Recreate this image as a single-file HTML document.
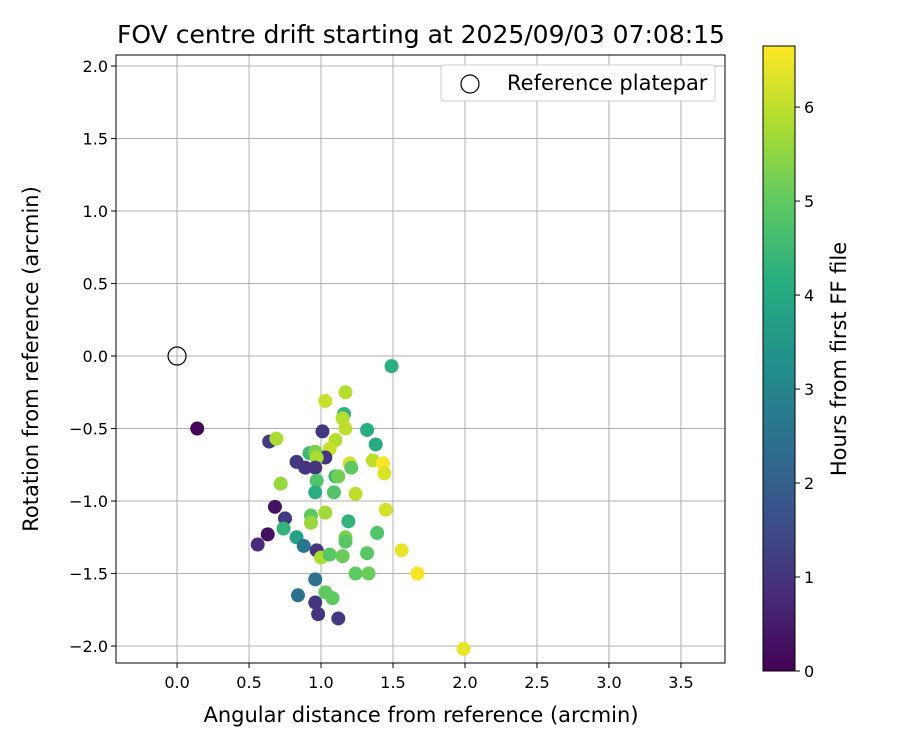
<!DOCTYPE html>
<html><head><meta charset="utf-8"><style>body{margin:0;background:#fff}svg{display:block;font-family:"DejaVu Sans","Liberation Sans",sans-serif}</style></head>
<body>
<svg id="chart" width="900" height="750" xmlns="http://www.w3.org/2000/svg">
<defs><linearGradient id="vir" x1="0" y1="1" x2="0" y2="0">
<stop offset="0" stop-color="#440154"/><stop offset="0.125" stop-color="#472d7b"/><stop offset="0.25" stop-color="#3b528b"/><stop offset="0.375" stop-color="#2c728e"/><stop offset="0.5" stop-color="#21918c"/><stop offset="0.625" stop-color="#28ae80"/><stop offset="0.75" stop-color="#5ec962"/><stop offset="0.875" stop-color="#addc30"/><stop offset="1" stop-color="#fde725"/></linearGradient></defs>
<rect width="900" height="750" fill="#fff"/>
<text x="421" y="43" style="font-size:25px" text-anchor="middle">FOV centre drift starting at 2025/09/03 07:08:15</text>
<g id="grid"></g><g id="ticks"></g><g id="marks"></g>
<rect x="116" y="55" width="609" height="608" fill="none" stroke="#000" stroke-width="1"/>
<text x="421" y="722" style="font-size:21px" text-anchor="middle">Angular distance from reference (arcmin)</text>
<text transform="translate(38,359) rotate(-90)" style="font-size:21px" text-anchor="middle">Rotation from reference (arcmin)</text>
<g>
<rect x="441" y="65" width="274" height="36" rx="3" fill="#fff" stroke="#ccc"/>
<circle cx="470" cy="84" r="9" fill="none" stroke="#000" stroke-width="1.2"/>
<text x="507" y="90" style="font-size:21px">Reference platepar</text></g>
<rect x="763" y="46" width="32" height="625" fill="url(#vir)" stroke="#000" stroke-width="1"/>
<g id="cbticks"></g>
<text transform="translate(846,359) rotate(-90)" style="font-size:21px" text-anchor="middle">Hours from first FF file</text>
</svg>
<script>
const xs=[0.14,1.49,1.17,1.03,1.16,1.15,1.17,1.32,1.01,1.38,1.10,0.64,0.69,0.92,0.96,1.06,1.03,0.97,0.83,0.89,0.96,1.20,1.21,1.36,1.43,1.44,0.97,1.10,1.12,0.72,0.96,1.09,1.24,0.68,0.75,0.93,1.03,0.93,1.19,1.45,0.74,1.39,0.63,0.83,0.56,0.88,0.97,1.00,1.06,1.15,1.17,1.17,1.32,1.56,1.24,1.33,1.67,0.96,0.84,1.03,1.08,0.96,0.98,1.12,1.99];
const ys=[-0.50,-0.07,-0.25,-0.31,-0.40,-0.43,-0.50,-0.51,-0.52,-0.61,-0.58,-0.59,-0.57,-0.67,-0.66,-0.64,-0.70,-0.70,-0.73,-0.77,-0.77,-0.74,-0.77,-0.72,-0.74,-0.81,-0.86,-0.83,-0.83,-0.88,-0.94,-0.94,-0.95,-1.04,-1.12,-1.10,-1.08,-1.15,-1.14,-1.06,-1.19,-1.22,-1.23,-1.25,-1.30,-1.31,-1.34,-1.39,-1.37,-1.38,-1.25,-1.28,-1.36,-1.34,-1.50,-1.50,-1.50,-1.54,-1.65,-1.63,-1.67,-1.70,-1.78,-1.81,-2.02];
const hours=[0.1,4.2,5.9,6.1,4.3,5.9,6.0,4.1,1.0,4.0,5.9,1.1,5.8,4.5,5.3,6.1,1.0,5.8,1.1,1.0,1.0,6.2,5.0,6.0,6.6,6.3,4.8,4.5,5.2,5.6,4.2,4.8,6.0,0.3,1.1,5.0,5.7,5.6,4.3,6.2,4.3,4.8,0.3,3.8,0.8,2.6,1.0,5.8,4.9,5.1,5.3,4.9,4.9,6.4,5.0,5.1,6.6,2.5,2.5,5.0,5.0,1.0,1.0,1.1,6.4];
const xTicks=[0,0.5,1,1.5,2,2.5,3,3.5];
const yTicks=[-2,-1.5,-1,-0.5,0,0.5,1,1.5,2];
const cTicks=[0,1,2,3,4,5,6];
const X0=-0.424,X1=3.806,Y0=-2.117,Y1=2.076,C0=0,C1=6.65;
const px=v=>116+(v-X0)/(X1-X0)*609, py=v=>663-(v-Y0)/(Y1-Y0)*608, pc=v=>671-(v-C0)/(C1-C0)*625;
const stops=[[68,1,84],[71,45,123],[59,82,139],[44,114,142],[33,145,140],[40,174,128],[94,201,98],[173,220,48],[253,231,37]];
function vir(h){let t=Math.max(0,Math.min(1,(h-C0)/(C1-C0)))*8;let i=Math.min(7,Math.floor(t)),f=t-i;const a=stops[i],b=stops[i+1];return 'rgb('+a.map((c,k)=>Math.round(c+(b[k]-c)*f)).join(',')+')';}
const NS='http://www.w3.org/2000/svg';
function mk(p,t,at){const e=document.createElementNS(NS,t);for(const k in at)e.setAttribute(k,at[k]);p.appendChild(e);return e;}
const G=document.getElementById('grid'),T=document.getElementById('ticks'),M=document.getElementById('marks'),C=document.getElementById('cbticks');
xTicks.forEach(v=>{const x=px(v);
const l=mk(G,'line',{x1:x,x2:x,y1:55,y2:663,stroke:'#b0b0b0','stroke-width':1});


mk(T,'line',{x1:x,x2:x,y1:663,y2:668,stroke:'#000'});
const t=mk(T,'text',{x:x,y:688,style:'font-size:16px','text-anchor':'middle'});t.textContent=v.toFixed(1);

});
yTicks.forEach(v=>{const y=py(v);
const l=mk(G,'line',{x1:116,x2:725,y1:y,y2:y,stroke:'#b0b0b0','stroke-width':1});


mk(T,'line',{x1:111,x2:116,y1:y,y2:y,stroke:'#000'});
const t=mk(T,'text',{x:108,y:y+6,style:'font-size:16px','text-anchor':'end'});t.textContent=(v<0?'\u2212':'')+Math.abs(v).toFixed(1);

});
const ref=mk(M,'circle',{cx:px(0),cy:py(0),r:9,fill:'none',stroke:'#000','stroke-width':1.2});


xs.forEach((v,i)=>{const c=mk(M,'circle',{cx:px(v),cy:py(ys[i]),r:7,fill:vir(hours[i])});

});
cTicks.forEach(v=>{const y=pc(v);mk(C,'line',{x1:795,x2:800,y1:y,y2:y,stroke:'#000'});
const t=mk(C,'text',{x:804,y:y+6,style:'font-size:16px'});t.textContent=v;

});
</script>
</body></html>
